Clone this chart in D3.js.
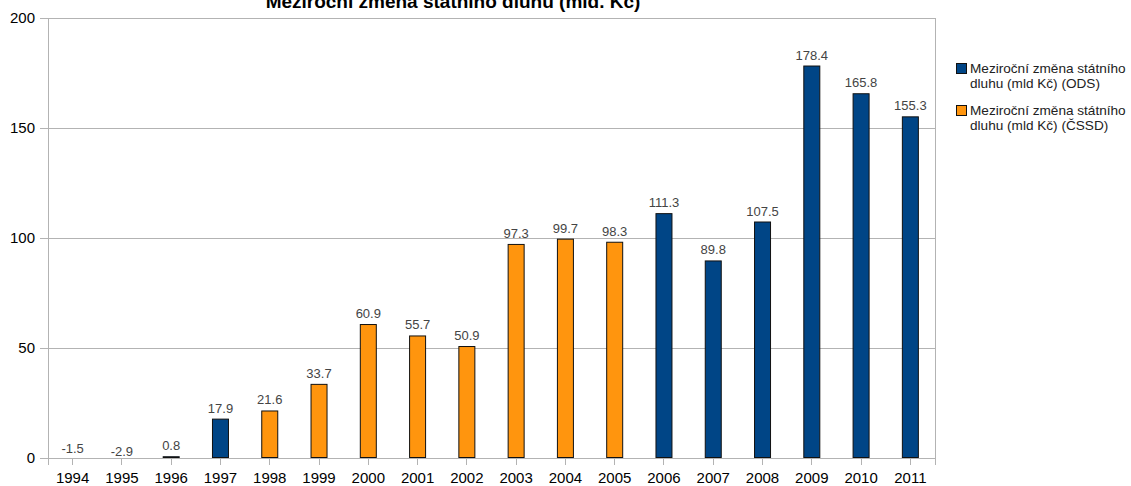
<!DOCTYPE html>
<html><head><meta charset="utf-8">
<script src="https://cdn.jsdelivr.net/npm/d3@7"></script>
<style>body{margin:0;background:#fff}svg{display:block}text{font-family:"Liberation Sans",Arial,sans-serif}</style>
</head><body><svg id="c" width="1131" height="486"></svg>
<script>
const years = ["1994","1995","1996","1997","1998","1999","2000","2001","2002","2003","2004","2005","2006","2007","2008","2009","2010","2011"];
const values = [-1.5,-2.9,0.8,17.9,21.6,33.7,60.9,55.7,50.9,97.3,99.7,98.3,111.3,89.8,107.5,178.4,165.8,155.3];
const party = ["ODS","ODS","ODS","ODS","CSSD","CSSD","CSSD","CSSD","CSSD","CSSD","CSSD","CSSD","ODS","ODS","ODS","ODS","ODS","ODS"];
const yTicks = [0,50,100,150,200];
const seriesNames = ["Meziroční změna státního|dluhu (mld Kč) (ODS)","Meziroční změna státního|dluhu (mld Kč) (ČSSD)"];
const seriesKeys = ["ODS","CSSD"];
const colors = {ODS:"#004586", CSSD:"#ff950e"};
const title = "Meziroční změna státního dluhu (mld. Kč)";

const svg = d3.select("#c");
const L=48,R=935,T=18,B=458;
const x = d3.scaleBand().domain(years).range([L,R]).paddingInner(0).paddingOuter(0);
const y = d3.scaleLinear().domain([0,200]).range([B,T]);
const grid="#b3b3b3";

svg.append("defs").append("clipPath").attr("id","pc").append("rect").attr("x",L).attr("y",T).attr("width",R-L).attr("height",B-T);

svg.append("g").selectAll("line").data(yTicks).join("line")
  .attr("x1",L-8).attr("x2",R).attr("y1",d=>y(d)).attr("y2",d=>y(d)).attr("stroke",grid).attr("stroke-width",1).attr("shape-rendering","crispEdges");
svg.append("line").attr("x1",L).attr("x2",L).attr("y1",T).attr("y2",B+7).attr("stroke",grid).attr("shape-rendering","crispEdges");
svg.append("line").attr("x1",R).attr("x2",R).attr("y1",T).attr("y2",B).attr("stroke",grid).attr("shape-rendering","crispEdges");
svg.append("g").selectAll("line").data(years).join("line")
  .attr("x1",d=>x(d)+x.bandwidth()/2).attr("x2",d=>x(d)+x.bandwidth()/2).attr("y1",B).attr("y2",B+7).attr("stroke",grid).attr("shape-rendering","crispEdges");
svg.append("line").attr("x1",R).attr("x2",R).attr("y1",B).attr("y2",B+7).attr("stroke",grid).attr("shape-rendering","crispEdges");

svg.append("g").selectAll("text").data(yTicks).join("text")
  .attr("x",35).attr("y",d=>y(d)+5).attr("text-anchor","end").attr("font-size",15).attr("fill","#000").text(d=>d);
svg.append("g").selectAll("text").data(years).join("text")
  .attr("x",d=>x(d)+x.bandwidth()/2).attr("y",483).attr("text-anchor","middle").attr("font-size",15).attr("fill","#000").text(d=>d);

const bw = 17;
const data = years.map((yr,i)=>({yr,v:values[i],p:party[i]}));
svg.append("g").attr("clip-path","url(#pc)").selectAll("rect").data(data).join("rect")
  .attr("x",d=>x(d.yr)+x.bandwidth()/2-bw/2+0.5)
  .attr("y",d=>Math.min(y(d.v),y(0))+0.5)
  .attr("width",bw-1)
  .attr("height",d=>Math.max(Math.abs(y(d.v)-y(0))-1,0.5))
  .attr("fill",d=>colors[d.p]).attr("stroke","#111").attr("stroke-width",1);

svg.append("g").selectAll("text").data(data).join("text")
  .attr("x",d=>x(d.yr)+x.bandwidth()/2).attr("y",d=>y(d.v)-(d.v<0?8.5:6))
  .attr("text-anchor","middle").attr("font-size",13).attr("fill","#444").text(d=>d.v.toFixed(1));

svg.append("text").attr("x",453).attr("y",8).attr("text-anchor","middle").attr("font-size",19).attr("font-weight","bold").attr("fill","#000").text(title);

const lg = svg.append("g");
seriesKeys.forEach((k,i)=>{
  const y0 = 63 + i*42;
  lg.append("rect").attr("x",956.5).attr("y",y0+0.5).attr("width",10).attr("height",10).attr("fill",colors[k]).attr("stroke","#111");
  const lines = seriesNames[i].split("|");
  lines.forEach((t,j)=>{
    lg.append("text").attr("x",970).attr("y",y0+10+j*15).attr("font-size",13.6).attr("fill","#222").text(t);
  });
});
</script></body></html>
